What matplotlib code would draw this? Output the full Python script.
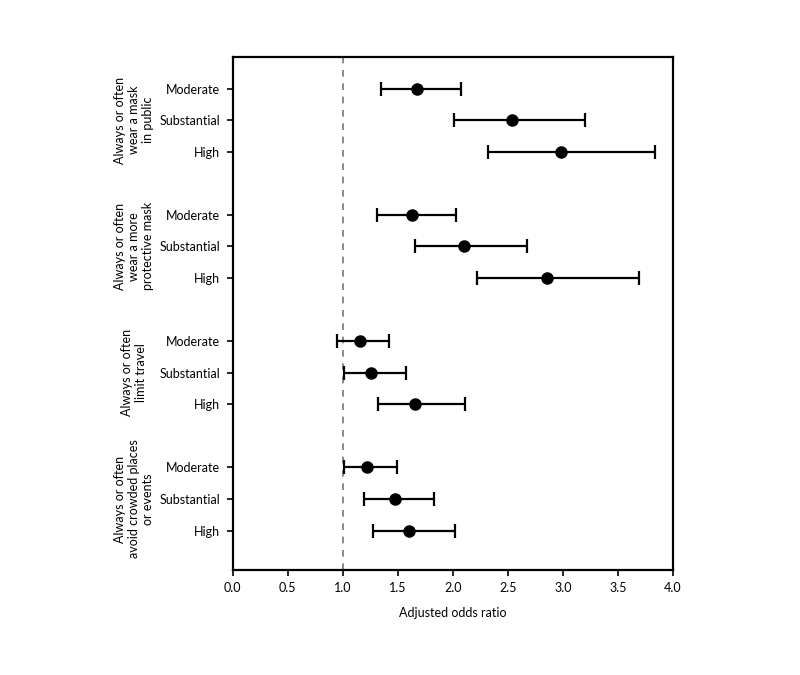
import matplotlib.pyplot as plt
import matplotlib.transforms as mtransforms
import numpy as np

plt.rcParams["font.family"] = ["Lato", "DejaVu Sans"]

# Data
groups = [
    "Always or often\nwear a mask\nin public",
    "Always or often\nwear a more\nprotective mask",
    "Always or often\nlimit travel",
    "Always or often\navoid crowded places\nor events",
]
levels = ["Moderate", "Substantial", "High"]

aor = [
    [1.67, 2.54, 2.98],
    [1.63, 2.10, 2.86],
    [1.16, 1.26, 1.66],
    [1.22, 1.47, 1.60],
]
ci_low = [
    [1.35, 2.01, 2.32],
    [1.31, 1.66, 2.22],
    [0.95, 1.01, 1.32],
    [1.01, 1.19, 1.27],
]
ci_high = [
    [2.07, 3.20, 3.84],
    [2.03, 2.67, 3.69],
    [1.42, 1.57, 2.11],
    [1.49, 1.83, 2.02],
]

fig = plt.figure(figsize=(8, 6.75), dpi=100)
ax = fig.add_axes([0.291, 0.1556, 0.55, 0.76])

ypos, ylabels = [], []
for g in range(len(groups)):
    for i, lev in enumerate(levels):
        ypos.append(g * 4 + i)
        ylabels.append(lev)

est = np.array(aor).ravel()
lo = np.array(ci_low).ravel()
hi = np.array(ci_high).ravel()

ax.axvline(1.0, color="#777777", lw=1.2, ls=(0, (4, 4)), zorder=1)
ax.errorbar(est, ypos, xerr=[est - lo, hi - est], fmt="o", color="black",
            ms=8, elinewidth=1.6, capsize=5, capthick=1.6, zorder=3)

ax.set_xlim(0, 4)
ax.set_xticks(np.arange(0, 4.01, 0.5))
ax.set_xticklabels([f"{v:.1f}" for v in np.arange(0, 4.01, 0.5)])
ax.set_ylim(15.25, -1)
ax.set_yticks(ypos)
ax.set_yticklabels(ylabels)
ax.tick_params(axis="both", direction="out", length=4, width=1.2,
               labelsize=9, colors="black")
ax.tick_params(axis="y", pad=5)
ax.tick_params(axis="x", pad=5)
for sp in ax.spines.values():
    sp.set_linewidth(1.6)
ax.set_xlabel("Adjusted odds ratio", fontsize=9, labelpad=9)

trans = mtransforms.blended_transform_factory(fig.transFigure, ax.transData)
for g, name in enumerate(groups):
    ax.text(0.1675, g * 4 + 1, name, transform=trans, rotation=90,
            ha="center", va="center", multialignment="center",
            fontsize=9, linespacing=1.15)

fig.savefig("out.png", dpi=100)
